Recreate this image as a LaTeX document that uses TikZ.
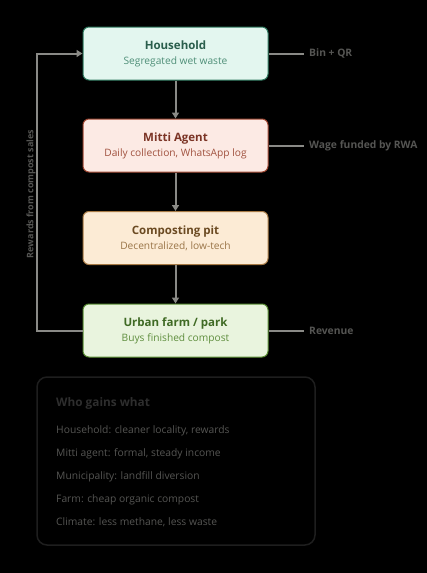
\documentclass[tikz,border=0pt]{standalone}
\usepackage{fontspec}
\setmainfont{Open Sans}
\usetikzlibrary{arrows.meta}

\definecolor{houseFill}{HTML}{E3F6EF}
\definecolor{houseLine}{HTML}{2F7A60}
\definecolor{houseHead}{HTML}{2A5E4C}
\definecolor{houseSub}{HTML}{4F8F78}
\definecolor{agentFill}{HTML}{FCEAE4}
\definecolor{agentLine}{HTML}{A24A35}
\definecolor{agentHead}{HTML}{7B3425}
\definecolor{agentSub}{HTML}{A0513E}
\definecolor{pitFill}{HTML}{FCEBD5}
\definecolor{pitLine}{HTML}{A77A45}
\definecolor{pitHead}{HTML}{6B4A22}
\definecolor{pitSub}{HTML}{9A7548}
\definecolor{farmFill}{HTML}{E9F4DE}
\definecolor{farmLine}{HTML}{5A8E35}
\definecolor{farmHead}{HTML}{3F6A24}
\definecolor{farmSub}{HTML}{5F8E3E}
\definecolor{flowGray}{HTML}{8A8A86}
\definecolor{noteGray}{HTML}{555553}
\definecolor{panelLine}{HTML}{1E1E1E}

\def\stagetext#1#2#3#4{{\fontsize{11.5}{13}\selectfont\bfseries\color{#3}#1}\\[3pt]{\fontsize{10.2}{12}\selectfont\color{#4}#2}}

\begin{document}
\begin{tikzpicture}[x=1pt, y=-1pt,
    stage/.style={rounded corners=6pt, line width=1pt, minimum width=185pt, minimum height=53pt, align=center, inner sep=0pt},
    flow/.style={draw=flowGray, line width=2pt, -{Triangle[width=7pt,length=6pt]}},
    feed/.style={draw=flowGray, line width=2pt},
    sidelabel/.style={anchor=west, inner xsep=5pt, text=noteGray, font=\fontsize{10.3}{12}\selectfont\bfseries},
    gainline/.style={anchor=west, inner sep=0pt, text=noteGray, font=\fontsize{10.3}{12}\selectfont}]
		%%%%% START %%%%%
		
		\fill[black] (0,0) rectangle (427,573);
		\useasboundingbox (0,0) rectangle (427,573);
		
		% the four stages
		\node[stage, fill=houseFill, draw=houseLine] (house) at (175.5,53.5) {\stagetext{Household}{Segregated wet waste}{houseHead}{houseSub}};
		\node[stage, fill=agentFill, draw=agentLine] (agent) at (175.5,145.5) {\stagetext{Mitti Agent}{Daily collection, WhatsApp log}{agentHead}{agentSub}};
		\node[stage, fill=pitFill, draw=pitLine] (pit) at (175.5,238) {\stagetext{Composting pit}{Decentralized, low-tech}{pitHead}{pitSub}};
		\node[stage, fill=farmFill, draw=farmLine] (farm) at (175.5,330.5) {\stagetext{Urban farm / park}{Buys finished compost}{farmHead}{farmSub}};
		
		\draw[flow] (house) -- (agent);
		\draw[flow] (agent) -- (pit);
		\draw[flow] (pit) -- (farm);
		
		% side notes
		\node[sidelabel] (bin) at (304,53.5) {Bin + QR};
		\node[sidelabel] (wage) at (304,145.5) {Wage funded by RWA};
		\node[sidelabel] (revenue) at (304,330.5) {Revenue};
		\draw[feed] (house.east) -- (bin.west);
		\draw[feed] (agent.east) -- (wage.west);
		\draw[feed] (farm.east) -- (revenue.west);
		
		% loop back to the household
		\coordinate (loopfoot) at (37,330.5);
		\draw[flow] (farm.west) -- (loopfoot) |- (house.west);
		\node[rotate=90, text=noteGray, font=\fontsize{9}{11}\selectfont\bfseries] (loopnote) at (31,194) {Rewards from compost sales};
		
		% who gains what
		\draw[panelLine, line width=1.5pt, rounded corners=10pt] (37,377) rectangle (315,545);
		\node[anchor=west, inner sep=0pt, text=panelLine!70!noteGray, font=\fontsize{11.8}{14}\selectfont\bfseries] (gainshead) at (56,403) {Who gains what};
		\node[gainline] (gainhouse) at (56,431) {Household: cleaner locality, rewards};
		\node[gainline] (gainagent) at (56,454) {Mitti agent: formal, steady income};
		\node[gainline] (gaincity) at (56,477) {Municipality: landfill diversion};
		\node[gainline] (gainfarm) at (56,499.5) {Farm: cheap organic compost};
		\node[gainline] (gainclimate) at (56,522) {Climate: less methane, less waste};
		
		%%%%% END %%%%%
	\end{tikzpicture}
\end{document}
